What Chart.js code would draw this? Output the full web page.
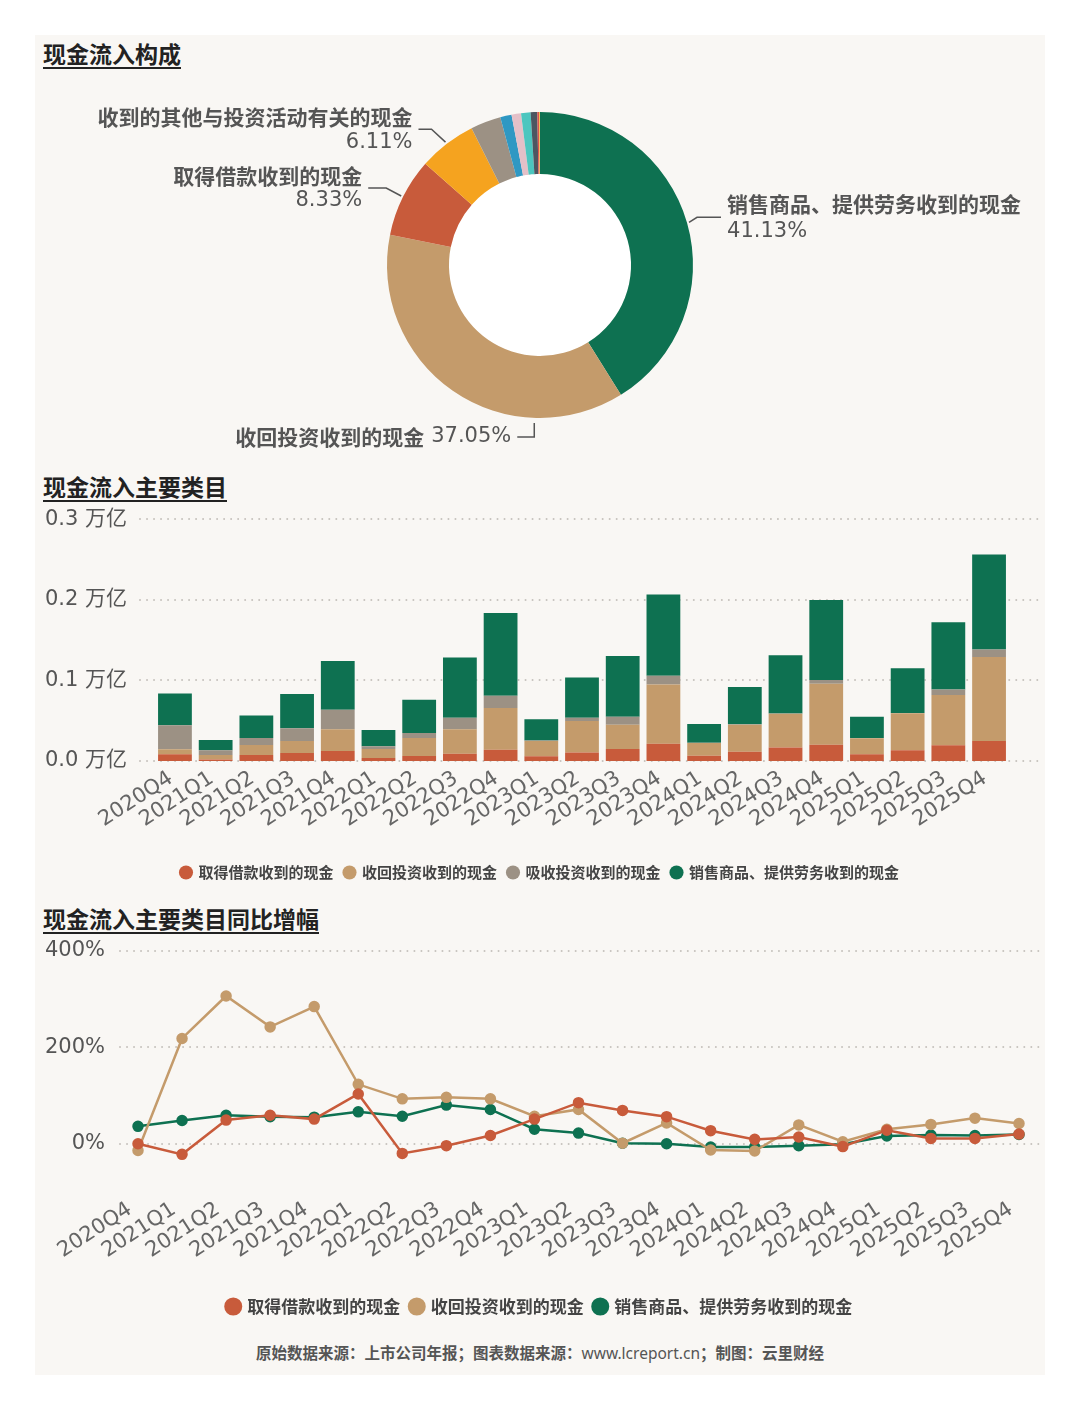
<!DOCTYPE html>
<html><head><meta charset="utf-8">
<script src="https://cdn.jsdelivr.net/npm/chart.js@4"></script>
<style>
html,body{margin:0;padding:0;background:#fff;width:1080px;height:1410px;overflow:hidden;}
#panel{position:absolute;left:35px;top:35px;width:1010px;height:1340px;background:#f9f7f4;}
.title{position:absolute;left:43px;font:bold 23px "Noto Sans CJK SC";color:#222;text-decoration:underline;text-decoration-thickness:2px;text-underline-offset:4px;line-height:1;white-space:nowrap;}
canvas{position:absolute;left:35px;}
#footer{position:absolute;left:0;width:1080px;top:1341px;text-align:center;font:bold 15.5px "Noto Sans CJK SC";color:#555;line-height:22px;}
#footer span{font-weight:normal;font-family:"Noto Sans";}
</style></head>
<body>
<div id="panel"></div>
<div class="title" style="top:42px">现金流入构成</div>
<div class="title" style="top:475px">现金流入主要类目</div>
<div class="title" style="top:907px">现金流入主要类目同比增幅</div>
<canvas id="pie" width="1010" height="390" style="top:70px"></canvas>
<canvas id="bar" width="1010" height="411" style="top:479px"></canvas>
<canvas id="line" width="1010" height="420" style="top:905px"></canvas>
<div id="footer">原始数据来源：上市公司年报；图表数据来源：<span>www.lcreport.cn</span>；制图：云里财经</div>
<script>
// ---------- data ----------
const pieLabels = ['销售商品、提供劳务收到的现金','收回投资收到的现金','取得借款收到的现金','收到的其他与投资活动有关的现金','吸收投资收到的现金','收到其他与经营活动有关的现金','取得投资收益收到的现金','收到的税费返还','处置固定资产、无形资产和其他长期资产收回的现金净额','处置子公司及其他营业单位收到的现金净额','发行债券收到的现金'];
const pieValues = [41.13,37.05,8.33,6.11,3.2,1.2,1.0,1.0,0.7,0.2,0.08];

const quarters = ['2020Q4','2021Q1','2021Q2','2021Q3','2021Q4','2022Q1','2022Q2','2022Q3','2022Q4','2023Q1','2023Q2','2023Q3','2023Q4','2024Q1','2024Q2','2024Q3','2024Q4','2025Q1','2025Q2','2025Q3','2025Q4'];
// 万亿
const borrowCash  = [0.0083,0.0020,0.0074,0.0099,0.0124,0.0037,0.0062,0.0091,0.0140,0.0058,0.0107,0.0149,0.0215,0.0066,0.0116,0.0169,0.0202,0.0083,0.0132,0.0194,0.0248];
const recoverCash = [0.0062,0.0054,0.0124,0.0149,0.0269,0.0112,0.0223,0.0302,0.0517,0.0190,0.0389,0.0301,0.0735,0.0157,0.0334,0.0418,0.0757,0.0198,0.0459,0.0624,0.1041];
const absorbCash  = [0.0297,0.0058,0.0087,0.0157,0.0243,0.0033,0.0062,0.0144,0.0153,0.0005,0.0041,0.0100,0.0108,0.0003,0.0005,0.0003,0.0045,0.0003,0.0003,0.0070,0.0095];
const salesCash   = [0.0397,0.0128,0.0281,0.0426,0.0604,0.0202,0.0413,0.0748,0.1025,0.0264,0.0500,0.0752,0.1008,0.0232,0.0462,0.0723,0.0992,0.0264,0.0558,0.0835,0.1178];
const barTicks = [0,0.1,0.2,0.3];

// 同比 %
const borrowYoY  = [0,-22,49,59,51,103,-20,-4,17,51,85,69,56,27,9,14,-6,28,11,11,20];
const recoverYoY = [-14,218,306,242,284,123,93,96,93,57,71,1,43,-13,-15,39,4,30,40,53,42];
const salesYoY   = [36,48,59,56,55,66,57,80,71,30,22,1,0,-7,-7,-4,-1,16,18,17,19];
const lineTicks = [0,200,400];

// ---------- styles ----------
const GREEN='#0e7151', TAN='#c49b6b', RED='#c85b3b', GRAY='#9c9184';
const pieColors=[GREEN,TAN,RED,'#f5a31f',GRAY,'#2f98c3','#e4c0c8','#4cc6bf','#4d5661','#d9534f','#f2c230'];
const NUM='"DejaVu Sans", "Noto Sans CJK SC"';
const CJK='"Noto Sans CJK SC"';

const dotGrid = {
  id:'dotGrid',
  beforeDatasetsDraw(chart,args,opts){
    const y=chart.scales.y, ctx=chart.ctx;
    ctx.save();
    ctx.strokeStyle='#c6c2bd'; ctx.lineWidth=2; ctx.lineCap='round'; ctx.setLineDash([0.01,7]);
    y.ticks.forEach(t=>{
      const py=Math.round(y.getPixelForValue(t.value));
      ctx.beginPath(); ctx.moveTo(opts.left,py); ctx.lineTo(opts.right,py); ctx.stroke();
    });
    ctx.restore();
  }
};

const donutLabels = {
  id:'donutLabels',
  beforeDatasetsDraw(chart){
    const p=chart.getDatasetMeta(0).data[0].getProps(['x','y','innerRadius'],true);
    const ctx=chart.ctx;
    ctx.save(); ctx.fillStyle='#ffffff'; ctx.beginPath(); ctx.arc(p.x,p.y,p.innerRadius,0,Math.PI*2); ctx.fill(); ctx.restore();
  },
  afterDatasetsDraw(chart,args,opts){
    const ctx=chart.ctx, meta=chart.getDatasetMeta(0);
    opts.items.forEach(it=>{
      const p=meta.data[it.index].getProps(['x','y','startAngle','endAngle','outerRadius'],true);
      const a=p.startAngle+(p.endAngle-p.startAngle)*it.frac;
      const r=p.outerRadius+it.gap;
      const x0=p.x+Math.cos(a)*r, y0=p.y+Math.sin(a)*r;
      const x1=x0+it.d1[0], y1=y0+it.d1[1];
      const x2=x1+it.d2[0], y2=y1+it.d2[1];
      ctx.save();
      ctx.strokeStyle='#555'; ctx.lineWidth=1.5;
      ctx.beginPath(); ctx.moveTo(x0,y0); ctx.lineTo(x1,y1); ctx.lineTo(x2,y2); ctx.stroke();
      const name=chart.data.labels[it.index];
      const pct=chart.data.datasets[0].data[it.index].toFixed(2)+'%';
      ctx.fillStyle='#555'; ctx.textBaseline='middle';
      const nameFont='bold 21px '+CJK, pctFont='21px "DejaVu Sans"';
      if(it.side==='right'){
        ctx.textAlign='left';
        ctx.font=nameFont; ctx.fillText(name,x2+6,y2-13);
        ctx.font=pctFont; ctx.fillText(pct,x2+6,y2+14);
      } else if(it.side==='left'){
        ctx.textAlign='right';
        ctx.font=nameFont; ctx.fillText(name,x2-6,y2-12);
        ctx.font=pctFont; ctx.fillText(pct,x2-6,y2+13);
      } else {
        ctx.textAlign='right';
        ctx.font=pctFont; ctx.fillText(pct,x2-6,y2);
        const w=ctx.measureText(pct).width;
        ctx.font=nameFont; ctx.fillText(name,x2-6-w-7,y2);
      }
      ctx.restore();
    });
  }
};

// ---------- donut ----------
new Chart(document.getElementById('pie'),{
  type:'doughnut',
  data:{labels:pieLabels,datasets:[{data:pieValues,backgroundColor:pieColors,borderWidth:0}]},
  options:{
    responsive:false, animation:false, radius:153, cutout:'59.5%',
    layout:{padding:0},
    plugins:{legend:{display:false},tooltip:{enabled:false},
      donutLabels:{items:[
        {index:0,frac:0.5,gap:2,d1:[8,-5],d2:[24,0],side:'right'},
        {index:1,frac:0.255,gap:5,d1:[0,14],d2:[-17,0],side:'bottom'},
        {index:2,frac:0.5,gap:2,d1:[-15,-8],d2:[-18,0],side:'left'},
        {index:3,frac:0.5,gap:2,d1:[-14,-13],d2:[-13,0],side:'left'}
      ]}}
  },
  plugins:[donutLabels]
});

// ---------- shared ----------
const legendLabels = (size,box)=>({usePointStyle:true,pointStyle:'circle',boxWidth:box,boxHeight:box,padding:11,color:'#444',font:{family:CJK,size:size,weight:'bold'}});
// empty right-side axis used only to reserve space at the right of the plot
const spacerAxis = (w)=>({position:'right',display:true,grid:{display:false,drawTicks:false},border:{display:false},ticks:{display:false,padding:0},afterFit(s){s.width=w;s.paddingTop=0;s.paddingBottom=0;}});

// ---------- bar ----------
new Chart(document.getElementById('bar'),{
  type:'bar',
  data:{labels:quarters,datasets:[
    {label:'取得借款收到的现金',data:borrowCash,backgroundColor:RED},
    {label:'收回投资收到的现金',data:recoverCash,backgroundColor:TAN},
    {label:'吸收投资收到的现金',data:absorbCash,backgroundColor:GRAY},
    {label:'销售商品、提供劳务收到的现金',data:salesCash,backgroundColor:GREEN}
  ]},
  options:{
    responsive:false, animation:false,
    layout:{padding:0},
    datasets:{bar:{categoryPercentage:1,barPercentage:0.83}},
    scales:{
      x:{stacked:true,grid:{display:false,drawTicks:false},border:{display:false},
         afterFit(s){s.height=93;},
         ticks:{autoSkip:false,minRotation:33,maxRotation:33,padding:5,labelOffset:-4,color:'#666',font:{family:'"DejaVu Sans"',size:21}}},
      y:{stacked:true,min:0,max:0.3,grid:{display:false,drawTicks:false},border:{display:false},
         afterFit(s){s.width=119.6;},
         afterBuildTicks(s){s.ticks=barTicks.map(v=>({value:v}));},
         ticks:{padding:27.6,color:'#555',font:{family:NUM,size:21},callback:v=>v.toFixed(1)+' 万亿'}},
      spacer:spacerAxis(35.6)
    },
    plugins:{legend:{position:'bottom',labels:legendLabels(15,10)},tooltip:{enabled:false},
      dotGrid:{left:105,right:1005}}
  },
  plugins:[dotGrid]
});

// ---------- line ----------
const lineDs=(label,data,color)=>({label,data,borderColor:color,backgroundColor:color,pointBackgroundColor:color,pointBorderColor:color,borderWidth:2.5,pointRadius:4.5,tension:0});
new Chart(document.getElementById('line'),{
  type:'line',
  data:{labels:quarters,datasets:[
    lineDs('取得借款收到的现金',borrowYoY,RED),
    lineDs('收回投资收到的现金',recoverYoY,TAN),
    lineDs('销售商品、提供劳务收到的现金',salesYoY,GREEN)
  ]},
  options:{
    responsive:false, animation:false,
    layout:{padding:0},
    scales:{
      x:{grid:{display:false,drawTicks:false},border:{display:false},
         afterFit(s){s.height=95;},
         ticks:{autoSkip:false,minRotation:33,maxRotation:33,padding:5,labelOffset:-8,color:'#666',font:{family:'"DejaVu Sans"',size:21}}},
      y:{min:-100,max:400,grid:{display:false,drawTicks:false},border:{display:false},
         afterFit(s){s.width=103;},
         afterBuildTicks(s){s.ticks=lineTicks.map(v=>({value:v}));},
         ticks:{padding:33,color:'#555',font:{family:NUM,size:21},callback:v=>v+'%'}},
      spacer:spacerAxis(26)
    },
    plugins:{legend:{position:'bottom',labels:legendLabels(17,11)},tooltip:{enabled:false},
      dotGrid:{left:85,right:1005}}
  },
  plugins:[dotGrid]
});
</script>
</body></html>
